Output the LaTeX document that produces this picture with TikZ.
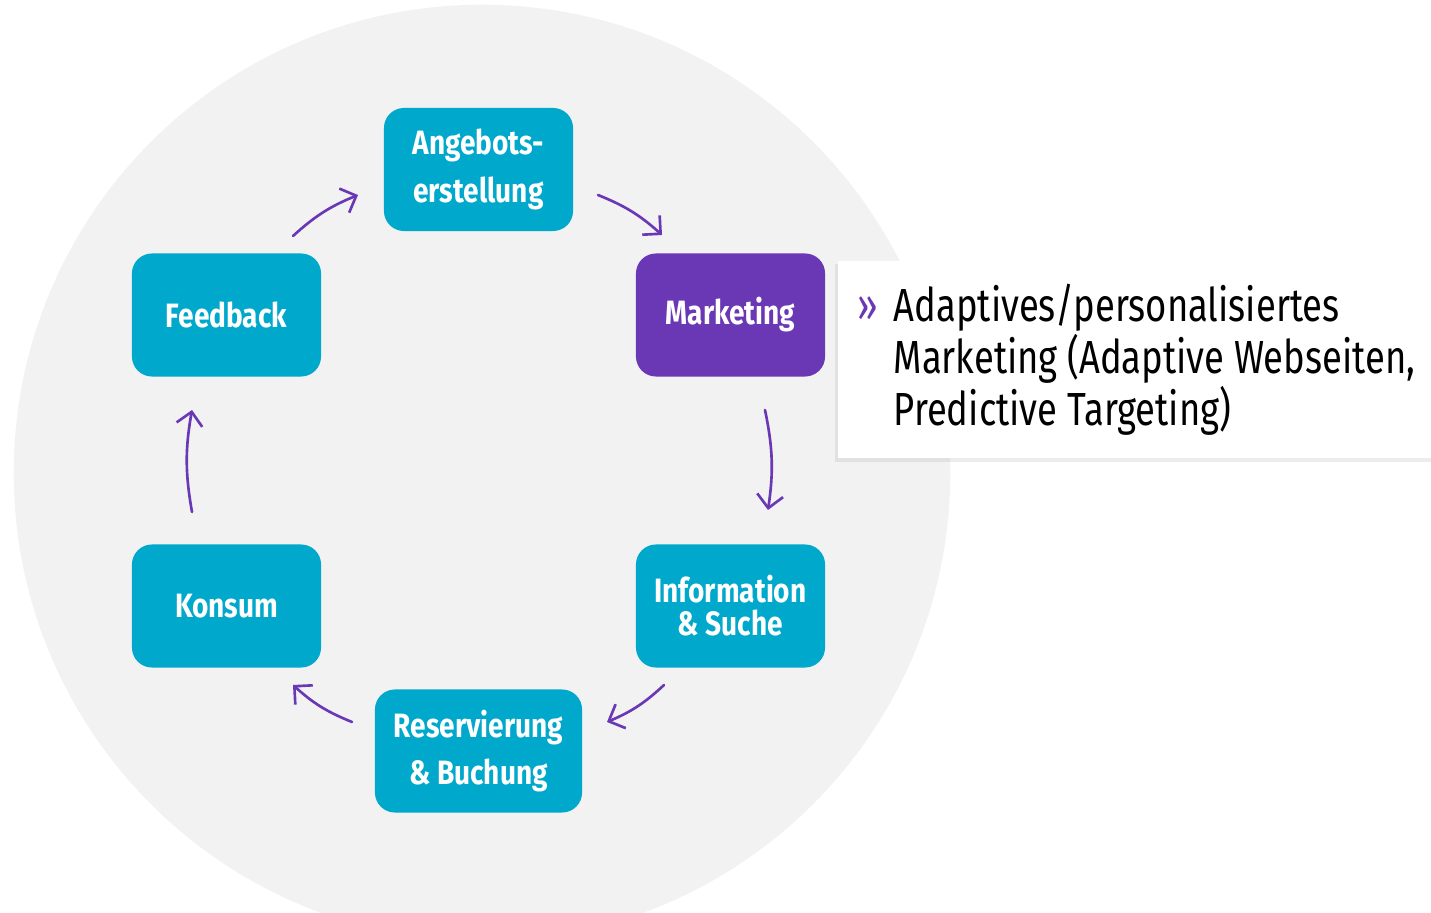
\documentclass[tikz,border=0pt]{standalone}
\usepackage{fontspec}
\setmainfont{Fira Sans}
\newfontfamily\phasefont[FakeStretch=0.83]{Fira Sans}
\newfontfamily\notefont[FakeStretch=0.785]{Fira Sans}
\usetikzlibrary{shadows,arrows.meta}

\definecolor{phaseblue}{HTML}{00A8CC}
\definecolor{lila}{HTML}{6A38B5}
\definecolor{circlegray}{HTML}{F2F2F2}

\tikzset{
	phase/.style={fill=phaseblue, rounded corners=0.2cm, minimum width=1.89cm, minimum height=1.23cm,
		inner sep=0pt, text=white, align=center, font=\phasefont\bfseries\fontsize{9.6}{13.4}\selectfont},
	flow/.style={draw=lila, line width=0.75pt, line cap=round,
		-{Straight Barb[length=1.3mm, width=2.6mm, line width=0.75pt]}},
	note/.style={align=left, inner sep=0pt, anchor=north west, font=\notefont\fontsize{13.2}{14.8}\selectfont}
}

\begin{document}
\begin{tikzpicture}[x=0.01cm, y=-0.01cm]
	\useasboundingbox (0,0) rectangle (1431,913);
	\clip (0,0) rectangle (1431,913);
	% background circle
	\fill[circlegray] (482,473) circle (4.68cm);

	% phases
	\node[phase] (angebot) at (478.5,169.5) {Angebots-\\erstellung};
	\node[phase, fill=lila] (marketing) at (730.5,315) {Marketing};
	\node[phase, font=\phasefont\bfseries\fontsize{9.6}{9.4}\selectfont] (info) at (730.5,606) {Information\\\& Suche};
	\node[phase, minimum width=2.07cm] (reserv) at (478.5,751) {Reservierung\\\& Buchung};
	\node[phase] (konsum) at (226.5,606) {Konsum};
	\node[phase] (feedback) at (226.5,315) {Feedback};

	% arrow ends
	\coordinate (a1) at (293,236); \coordinate (b1) at (358,195);
	\coordinate (a2) at (598,195); \coordinate (b2) at (662,235);
	\coordinate (a3) at (765,410); \coordinate (b3) at (768,510);
	\coordinate (a4) at (664,685); \coordinate (b4) at (607,722);
	\coordinate (a5) at (352,722); \coordinate (b5) at (293,685);
	\coordinate (a6) at (192,512); \coordinate (b6) at (192,410);
	\foreach \i in {1,...,6}
		\draw[flow] (a\i) to[bend left=10] (b\i);

	% text box
	\path[fill=white, drop shadow={shadow xshift=-0.35mm, shadow yshift=-0.35mm, opacity=0.15}] (838,261) rectangle (1460,458);
	\node[anchor=north west, inner sep=0pt, text=lila, font=\notefont\fontsize{13.2}{14.8}\selectfont] (bullet) at (857,296) {»};
	\node[note] (notetext) at (893,283) {Adaptives/personalisiertes\\Marketing (Adaptive Webseiten,\\Predictive Targeting)};
\end{tikzpicture}
\end{document}
